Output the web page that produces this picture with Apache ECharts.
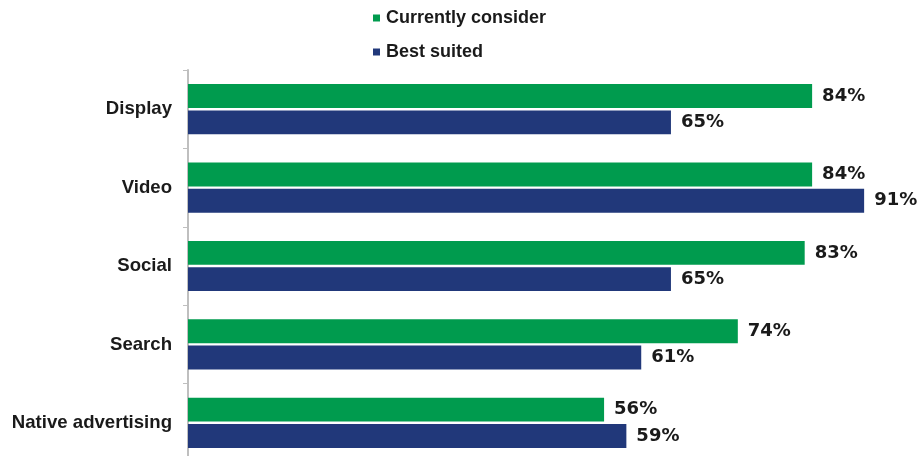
<!DOCTYPE html>
<html>
<head>
<meta charset="utf-8">
<script src="https://cdn.jsdelivr.net/npm/echarts@6/dist/echarts.min.js"></script>
<style>
  html, body { margin: 0; padding: 0; background: #ffffff; }
  #chart { width: 920px; height: 456px; }
</style>
</head>
<body>
<div id="chart"></div>
<script>
// Ad formats, listed top to bottom
const categories = ['Display', 'Video', 'Social', 'Search', 'Native advertising'];
const seriesNames = ['Currently consider', 'Best suited'];
const currentlyConsider = [84, 84, 83, 74, 56];
const bestSuited = [65, 91, 65, 61, 59];

const GREEN = '#009b4e';
const BLUE = '#21387a';

const chart = echarts.init(document.getElementById('chart'), null, { renderer: 'canvas' });

const labelStyle = {
  show: true,
  position: 'right',
  distance: 10,
  formatter: p => p.value + '%',
  fontFamily: 'DejaVu Sans',
  fontWeight: 'bold',
  fontSize: 18,
  color: '#1a1a1a'
};

chart.setOption({
  animation: false,
  backgroundColor: '#ffffff',
  legend: {
    orient: 'vertical',
    left: 368,
    top: 3,
    itemWidth: 7,
    itemHeight: 7,
    itemGap: 14,
    icon: 'rect',
    textStyle: {
      fontFamily: 'Liberation Sans',
      fontWeight: 'bold',
      fontSize: 18,
      lineHeight: 20,
      color: '#1a1a1a',
      padding: [0, 0, 0, 1]
    },
    data: seriesNames
  },
  grid: {
    left: 188,
    top: 70,
    width: 743,
    height: 392,
    containLabel: false,
    outerBoundsMode: 'none'
  },
  xAxis: {
    type: 'value',
    min: 0,
    max: 100,
    show: false
  },
  yAxis: {
    type: 'category',
    inverse: true,
    data: categories,
    axisLine: { show: true, lineStyle: { color: '#bfbfbf', width: 2 } },
    axisTick: { show: true, length: 5, lineStyle: { color: '#bfbfbf', width: 1 } },
    axisLabel: {
      margin: 16,
      fontFamily: 'Liberation Sans',
      fontWeight: 'bold',
      fontSize: 18.6,
      color: '#1a1a1a'
    },
    splitLine: { show: false }
  },
  series: [
    {
      name: seriesNames[0],
      type: 'bar',
      data: currentlyConsider,
      itemStyle: { color: GREEN },
      barCategoryGap: '36%',
      barGap: '10%',
      label: labelStyle
    },
    {
      name: seriesNames[1],
      type: 'bar',
      data: bestSuited,
      itemStyle: { color: BLUE },
      barCategoryGap: '36%',
      barGap: '10%',
      label: labelStyle
    }
  ]
});
</script>
</body>
</html>
